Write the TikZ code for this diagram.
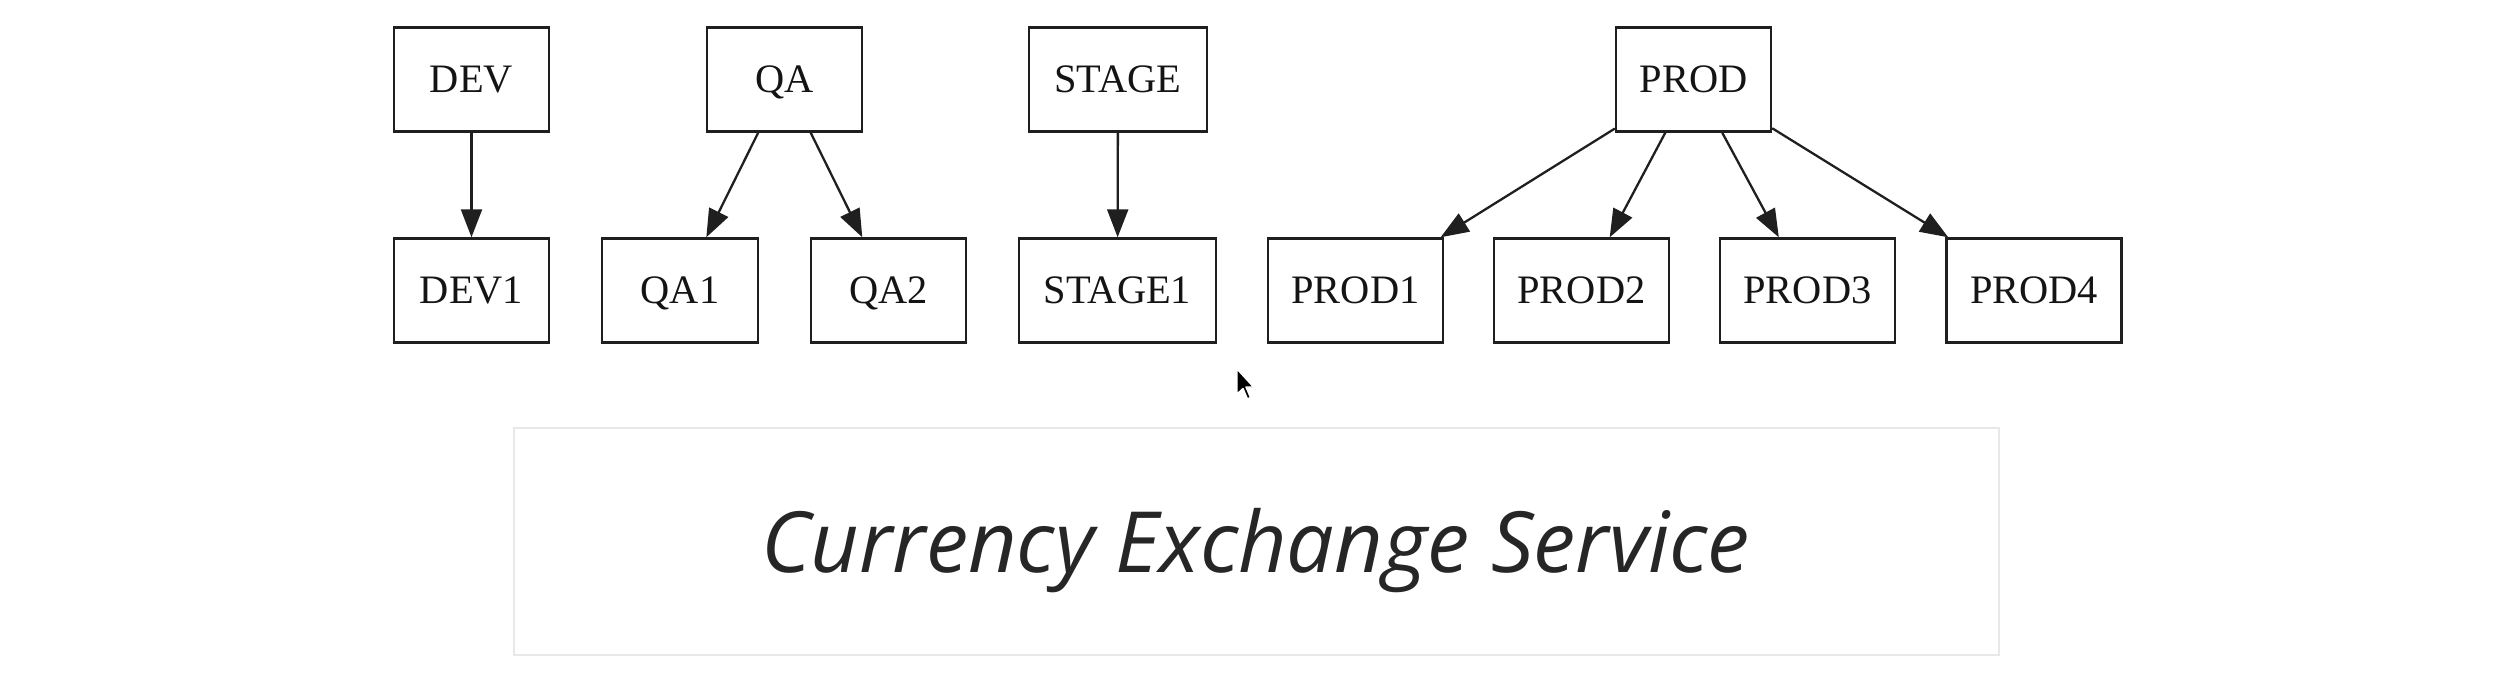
\documentclass[tikz,border=0pt]{standalone}
\usepackage{fontspec}
\setmainfont{Liberation Serif}
\newfontfamily\titlefont{Open Sans}
\usetikzlibrary{arrows.meta}
\begin{document}
\begin{tikzpicture}[x=0.02cm,y=-0.02cm,
  box/.style={draw=black!88, line width=1.4pt, minimum height=2.08cm, inner sep=0pt,
              text height=15.2pt, text depth=0pt, text=black!92,
              font=\fontsize{23}{27}\selectfont},
  edge/.style={draw=black!88, line width=1.3pt, -{Triangle[length=0.56cm,width=0.42cm]}},
  panel/.style={draw=black!9, line width=1.1pt, fill=white, inner sep=0pt},
  title/.style={inner sep=0pt, anchor=base, text=black!85}]
\useasboundingbox (0,0) rectangle (2515,680);
\fill[white] (0,0) rectangle (2515,680);

% top row
\node[box, minimum width=3.10cm] (dev)   at (471.5,79.5) {DEV};
\node[box, minimum width=3.10cm] (qa)    at (784.5,79.5) {QA};
\node[box, minimum width=3.56cm] (stage) at (1118,79.5) {STAGE};
\node[box, minimum width=3.10cm] (prod)  at (1693.5,79.5) {PROD};

% bottom row
\node[box, minimum width=3.10cm] (dev1)   at (471.5,290.5) {DEV1};
\node[box, minimum width=3.12cm] (qa1)    at (680,290.5) {QA1};
\node[box, minimum width=3.10cm] (qa2)    at (888.5,290.5) {QA2};
\node[box, minimum width=3.94cm] (stage1) at (1117.5,290.5) {STAGE1};
\node[box, minimum width=3.50cm] (prod1)  at (1355.5,290.5) {PROD1};
\node[box, minimum width=3.50cm] (prod2)  at (1581.5,290.5) {PROD2};
\node[box, minimum width=3.50cm] (prod3)  at (1807.5,290.5) {PROD3};
\node[box, minimum width=3.50cm] (prod4)  at (2034,290.5) {PROD4};

% edges
\draw[edge] (dev) -- (dev1);
\draw[edge] (qa) -- (qa1);
\draw[edge] (qa) -- (qa2);
\draw[edge] (stage) -- (stage1);
\draw[edge] (prod) -- (prod1);
\draw[edge] (prod) -- (prod2);
\draw[edge] (prod) -- (prod3);
\draw[edge] (prod) -- (prod4);

% cursor
\filldraw[fill=black, draw=white, line width=0.8pt, line join=round]
  (1237,369) -- ++(0,25) -- ++(6,-5.5) -- ++(4.5,10.5) -- ++(3,-1.5)
  -- ++(-4.5,-10.5) -- ++(7.5,0) -- cycle;

% bottom panel
\node[panel, minimum width=29.7cm, minimum height=4.54cm] (panelbox) at (1256.5,541.5) {};
\node[title] (titletext) at (1255.5,572)
  {\resizebox{19.78cm}{!}{\titlefont\itshape Currency Exchange Service}};
\end{tikzpicture}
\end{document}
